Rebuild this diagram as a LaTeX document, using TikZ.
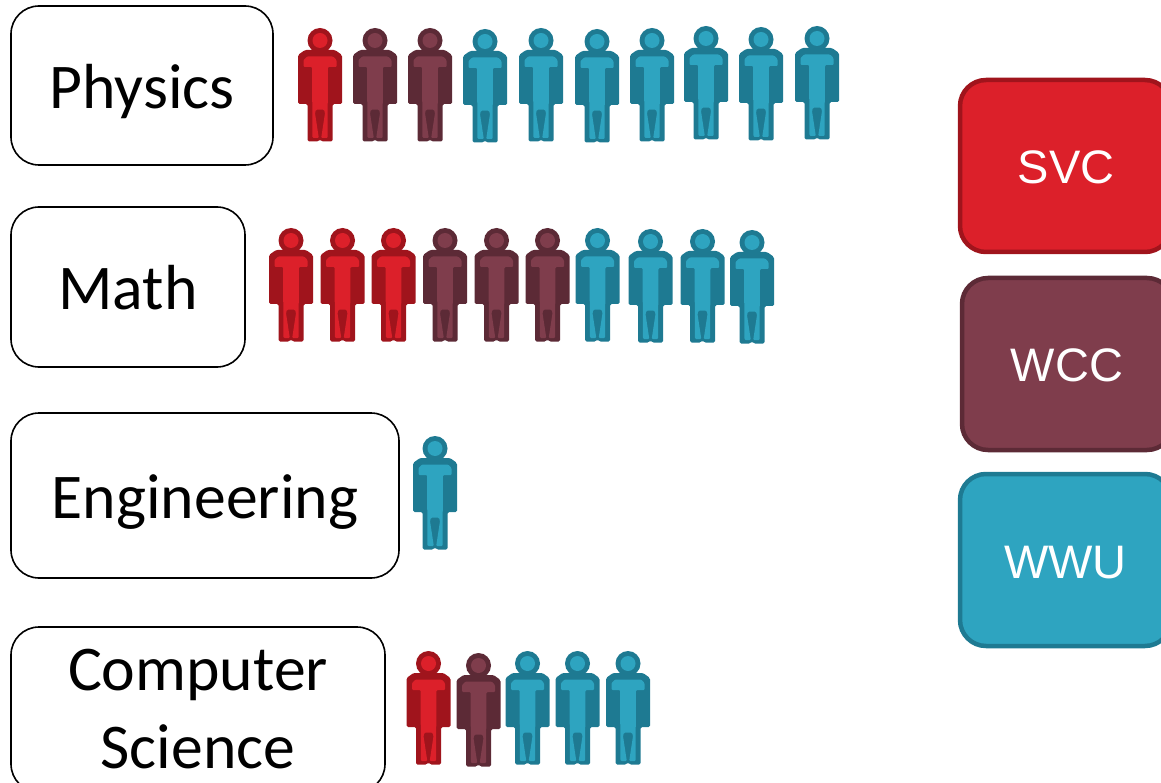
\documentclass[tikz,border=0pt]{standalone}
\usepackage{fontspec}
\setmainfont{Carlito}
\newfontfamily\legendfont{Liberation Sans}
\definecolor{svcl}{HTML}{DC202A}
\definecolor{svcd}{HTML}{A0141C}
\definecolor{wccl}{HTML}{7F3D4C}
\definecolor{wccd}{HTML}{5C2A36}
\definecolor{wwul}{HTML}{2EA4C0}
\definecolor{wwud}{HTML}{1E7A92}
\tikzset{
  subject/.style={draw=black,line width=1.6pt,fill=white,rounded corners=28pt,inner sep=0pt},
  subjecttext/.style={anchor=base,text=black,font=\fontsize{63.7}{78}\selectfont},
  legendbox/.style={rounded corners=26pt,line width=4.5pt,inner sep=0pt},
  legendtext/.style={anchor=base,inner sep=0pt,text=white,font=\legendfont\fontsize{47}{47}\selectfont},
  pics/person/.style 2 args={code={
    \fill[#1] (0,12.5) circle[radius=12.5];
    \fill[#2] (0,12.5) circle[radius=7.5];
    \fill[#1,rounded corners=1.5pt] (-15,22) -- (15,22) -- (22,27) -- (22,76) -- (12.5,76) -- (12.5,113.5) -- (1.5,113.5) -- (0,111) -- (-1.5,113.5) -- (-12.5,113.5) -- (-12.5,76) -- (-22,76) -- (-22,27) -- cycle;
    \fill[#2,rounded corners=1pt] (-13,28.5) -- (13,28.5) -- (16.5,32) -- (16.5,39) -- (8,39) -- (7.5,110) -- (1.2,110) -- (5,85) -- (4,81.7) -- (-4,81.7) -- (-5,85) -- (-1.2,110) -- (-7.5,110) -- (-8,39) -- (-16.5,39) -- (-16.5,32) -- cycle;
  }}
}
\begin{document}
\begin{tikzpicture}[x=1pt,y=-1pt]
\useasboundingbox (0,0) rectangle (1161,783);
\node[subject,minimum width=262pt,minimum height=159pt] (physics) at (142,85.5) {};
\node[subject,minimum width=234pt,minimum height=160pt] (math) at (128,287) {};
\node[subject,minimum width=388pt,minimum height=165pt] (engineering) at (205,495.5) {};
\node[subject,minimum width=374pt,minimum height=165pt] (cs) at (198,709.5) {};
\node[subjecttext] (physicsT) at (142,109) {Physics};
\node[subjecttext] (mathT) at (128,310) {Math};
\node[subjecttext] (engT) at (205,518) {Engineering};
\node[subjecttext] (csA) at (198,690.5) {Computer};
\node[subjecttext] (csB) at (198,768.5) {Science};
\node[legendbox,draw=svcd,fill=svcl,minimum width=211pt,minimum height=172pt] (svcbox) at (1065.5,166) {};
\node[legendbox,draw=wccd,fill=wccl,minimum width=211pt,minimum height=172pt] (wccbox) at (1067.5,364) {};
\node[legendbox,draw=wwud,fill=wwul,minimum width=211pt,minimum height=172pt] (wwubox) at (1065.5,560) {};
\node[legendtext] (svc) at (1066,184) {SVC};
\node[legendtext] (wcc) at (1067,381) {WCC};
\node[legendtext] (wwu) at (1065.5,578) {WWU};
% Physics
\pic (p1) at (320,28) {person={svcd}{svcl}};
\pic (p2) at (375,28) {person={wccd}{wccl}};
\pic (p3) at (430,28) {person={wccd}{wccl}};
\pic (p4) at (485,29) {person={wwud}{wwul}};
\pic (p5) at (541,28) {person={wwud}{wwul}};
\pic (p6) at (597,29) {person={wwud}{wwul}};
\pic (p7) at (652,28) {person={wwud}{wwul}};
\pic (p8) at (706,26) {person={wwud}{wwul}};
\pic (p9) at (761,27) {person={wwud}{wwul}};
\pic (p10) at (817,26) {person={wwud}{wwul}};
% Math
\pic (m1) at (291,228) {person={svcd}{svcl}};
\pic (m2) at (342.5,228) {person={svcd}{svcl}};
\pic (m3) at (393.5,228) {person={svcd}{svcl}};
\pic (m4) at (445,228) {person={wccd}{wccl}};
\pic (m5) at (496.5,228) {person={wccd}{wccl}};
\pic (m6) at (547.5,228) {person={wccd}{wccl}};
\pic (m7) at (597.5,228) {person={wwud}{wwul}};
\pic (m8) at (650.5,229) {person={wwud}{wwul}};
\pic (m9) at (702.5,229) {person={wwud}{wwul}};
\pic (m10) at (752,230) {person={wwud}{wwul}};
% Engineering
\pic (e1) at (435,436) {person={wwud}{wwul}};
% Computer Science
\pic (c1) at (428.5,651) {person={svcd}{svcl}};
\pic (c2) at (478.5,653) {person={wccd}{wccl}};
\pic (c3) at (527.5,651) {person={wwud}{wwul}};
\pic (c4) at (577.5,651) {person={wwud}{wwul}};
\pic (c5) at (628,651) {person={wwud}{wwul}};
\end{tikzpicture}
\end{document}
